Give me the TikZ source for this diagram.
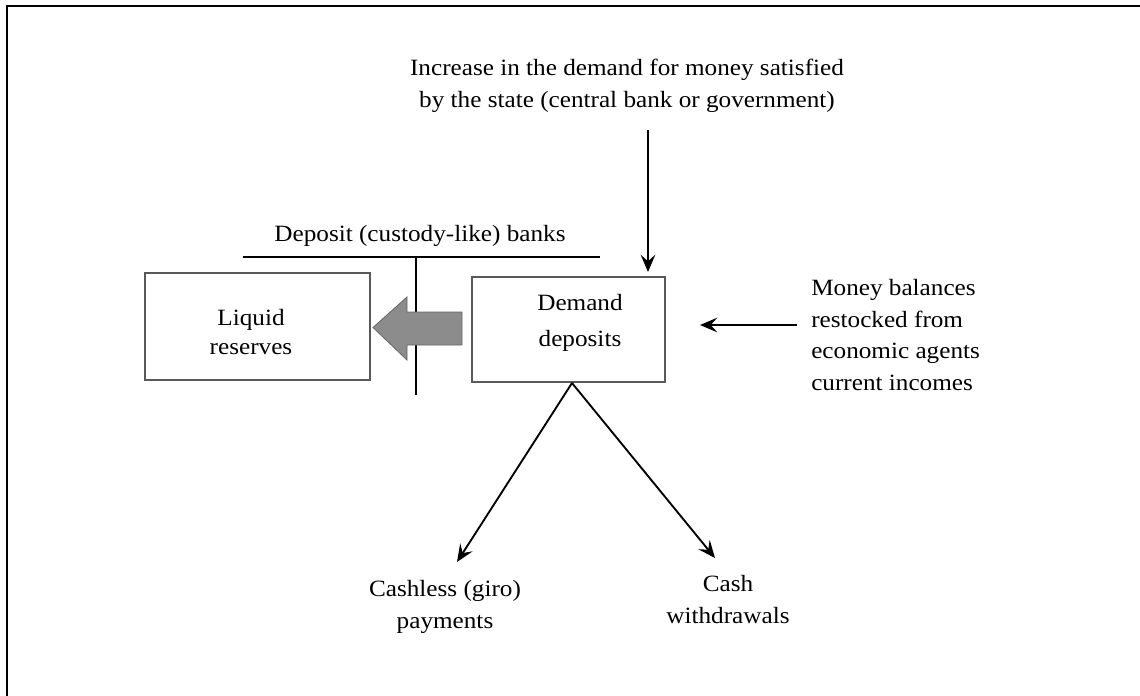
\documentclass[tikz,border=0pt]{standalone}
\usepackage{fontspec}
\setmainfont{Liberation Serif}[FakeStretch=1.08]
\usetikzlibrary{arrows.meta}
\begin{document}
\begin{tikzpicture}[x=0.75pt,y=-0.75pt,
  lbl/.style={font=\fontsize{17.5}{24}\selectfont, inner sep=0pt, align=center},
  boxnode/.style={draw=black!65, line width=1.5pt, inner sep=0pt},
  arr/.style={line width=1.4pt, -{Stealth[length=13pt,width=11pt,inset=5pt]}},
  rule/.style={line width=1.3pt}
]
\useasboundingbox (0,0) rectangle (1140,696);
% frame
\draw[line width=1.8pt] (7,696) -- (7,6) -- (1140,6);

% top text
\node[lbl] (top) at (627,86) {Increase in the demand for money satisfied\\by the state (central bank or government)};
\coordinate (topA) at (648,130);

% banks label and rules
\node[lbl] (banks) at (420,236) {Deposit (custody-like) banks};
\coordinate (hl) at (243,257);
\coordinate (hr) at (600,257);
\coordinate (vt) at (416,257);
\coordinate (vb) at (416,395);
\draw[rule] (hl) -- (hr);
\draw[rule] (vt) -- (vb);

% boxes
\node[boxnode, minimum width=168.75pt, minimum height=80pt] (liq) at (257.5,326.5) {};
\node[lbl, font=\fontsize{17.5}{21.75}\selectfont] (liqt) at (251,332) {Liquid\\reserves};
\node[boxnode, minimum width=144.75pt, minimum height=78.75pt] (dem) at (568.5,329.5) {};
\node[lbl, font=\fontsize{17.5}{27}\selectfont] (demt) at (580,323) {Demand\\deposits};

% fat arrow
\fill[black!45, draw=black!60, line width=0.6pt] (462,312) -- (407,312) -- (407,297) -- (373,327.5) -- (407,360) -- (407,345) -- (462,345) -- cycle;

% top arrow
\coordinate (demT) at (648,272);
\draw[arr] (topA) -- (demT);

% money balances
\node[lbl, align=left, anchor=west, font=\fontsize{17.5}{23.75}\selectfont] (money) at (811,335) {Money balances\\restocked from\\economic agents\\current incomes};
\coordinate (mA) at (797,325);
\coordinate (mB) at (700,325);
\draw[arr] (mA) -- (mB);

% bottom arrows
\coordinate (bot) at (572,383);
\coordinate (lt) at (457,562);
\coordinate (rt) at (715,558);
\draw[arr] (bot) -- (lt);
\draw[arr] (bot) -- (rt);

\node[lbl] (cashless) at (445,607) {Cashless (giro)\\payments};
\node[lbl] (cash) at (728,600) {Cash\\withdrawals};
\end{tikzpicture}
\end{document}
